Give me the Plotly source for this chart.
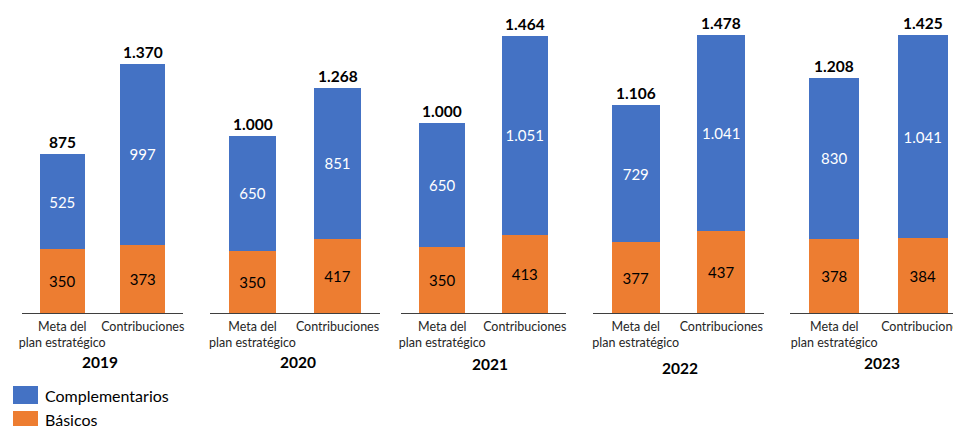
import plotly.graph_objects as go

# ---------------- data ----------------
years = ["2019", "2020", "2021", "2022", "2023"]
categories = ["Meta del<br>plan estratégico", "Contribuciones"]
basicos = [[350, 373], [350, 417], [350, 413], [377, 437], [378, 384]]
complementarios = [[525, 997], [650, 851], [650, 1051], [729, 1041], [830, 1041]]
legend_labels = ["Complementarios", "Básicos"]

# ---------------- style / layout ----------------
BLUE = "#4472C4"
ORANGE = "#ED7D31"
FONT = "Lato"
OFF = 8                      # page body margin offset
W, H = 961 - OFF, 426 - OFF  # visible figure size


def px_x(x):
    return (x - OFF) / W


def px_y(y):
    return 1 - (y - OFF) / H


x_domains_px = [(22, 183), (210, 380), (401, 566), (593, 764), (790, 961)]
x_ranges = [[-0.5, 1.5], [-0.5, 1.5], [-0.5, 1.5], [-0.5, 1.5], [-0.5, 1.432]]
y_top_px, y_base_px = 20, 313
y_max = [1610, 1651, 1546, 1558, 1503]
year_label_pos = [(100, 362), (298, 362), (490, 364), (680, 368), (882, 363)]


def fmt(v):
    return f"{v:,}".replace(",", ".")


fig = go.Figure()
layout_axes = {}
for i, yr in enumerate(years):
    sfx = "" if i == 0 else str(i + 1)
    xa, ya = "x" + sfx, "y" + sfx
    fig.add_trace(go.Bar(
        x=categories, y=basicos[i], name=legend_labels[1],
        marker=dict(color=ORANGE, line=dict(width=0)),
        text=[fmt(v) for v in basicos[i]], textposition="inside",
        insidetextanchor="middle", textangle=0,
        textfont=dict(color="#000000", size=15, family=FONT),
        width=0.56, xaxis=xa, yaxis=ya, showlegend=False, cliponaxis=False,
    ))
    fig.add_trace(go.Bar(
        x=categories, y=complementarios[i], name=legend_labels[0],
        marker=dict(color=BLUE, line=dict(width=0)),
        text=[fmt(v) for v in complementarios[i]], textposition="inside",
        insidetextanchor="middle", textangle=0,
        textfont=dict(color="#FFFFFF", size=15, family=FONT),
        width=0.56, xaxis=xa, yaxis=ya, showlegend=False, cliponaxis=False,
    ))
    totals = [b + c for b, c in zip(basicos[i], complementarios[i])]
    for cat, t in zip(categories, totals):
        fig.add_annotation(
            x=cat, y=t, xref=xa, yref=ya, text=f"<b>{fmt(t)}</b>",
            showarrow=False, yanchor="bottom", yshift=1,
            font=dict(size=15.5, color="#000000", family=FONT),
        )
    yx, yy = year_label_pos[i]
    fig.add_annotation(
        x=px_x(yx), y=px_y(yy), xref="paper", yref="paper",
        text=f"<b>{yr}</b>", showarrow=False, xanchor="center", yanchor="middle",
        font=dict(size=15.5, color="#000000", family=FONT),
    )
    d0, d1 = x_domains_px[i]
    layout_axes["xaxis" + sfx] = dict(
        domain=[px_x(d0), min(1.0, px_x(d1))], range=x_ranges[i], anchor=ya,
        showline=True, linecolor="#3F3F3F", linewidth=1, ticks="",
        showgrid=False, zeroline=False, fixedrange=True, automargin=False,
        tickangle=0,
        tickfont=dict(size=12.5, color="#262626", family=FONT),
        ticklabelstandoff=2,
    )
    layout_axes["yaxis" + sfx] = dict(
        domain=[px_y(y_base_px), px_y(y_top_px)], range=[0, y_max[i]],
        anchor=xa, visible=False, showgrid=False, zeroline=False,
        fixedrange=True, automargin=False,
    )

# legend drawn as swatches + labels
legend_items = [(legend_labels[0], BLUE, 386, 404, 395), (legend_labels[1], ORANGE, 411, 429, 419)]
for label, color, y0, y1, yc in legend_items:
    fig.add_shape(type="rect", xref="paper", yref="paper",
                  x0=px_x(13), x1=px_x(38), y0=px_y(y1), y1=px_y(y0),
                  fillcolor=color, line=dict(width=0))
    fig.add_annotation(x=px_x(43), y=px_y(yc), xref="paper", yref="paper",
                       text=label, showarrow=False, xanchor="left", yanchor="middle",
                       font=dict(size=16, color="#000000", family=FONT))

fig.update_layout(
    width=W, height=H, barmode="stack",
    margin=dict(l=0, r=0, t=0, b=0, autoexpand=False),
    paper_bgcolor="white", plot_bgcolor="white",
    font=dict(family=FONT), uniformtext=dict(mode=False),
    showlegend=False,
    **layout_axes,
)

fig.write_html("out.html")
